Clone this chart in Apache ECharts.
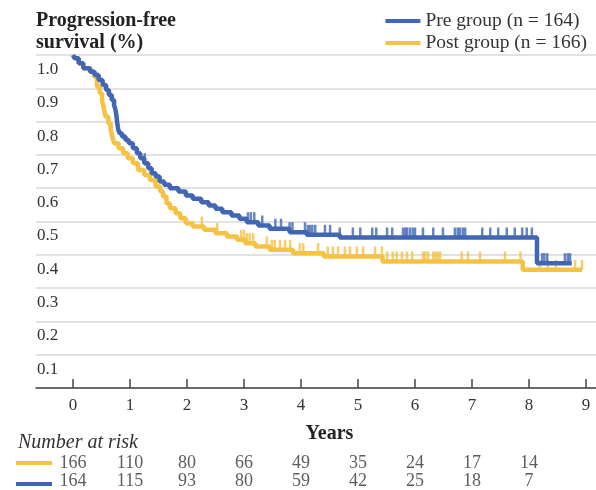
<!DOCTYPE html>
<html>
<head>
<meta charset="utf-8">
<title>Progression-free survival</title>
<script src="https://cdn.jsdelivr.net/npm/echarts@6/dist/echarts.min.js"></script>
<style>
  html, body { margin: 0; padding: 0; background: #ffffff; }
  #chart { width: 596px; height: 490px; }
</style>
</head>
<body>
<div id="chart"></div>
<script>
// Kaplan-Meier step curves: event times (years) and survival after each event
const preTimes = [0, 0.03, 0.10, 0.18, 0.30, 0.38, 0.45, 0.52, 0.58, 0.63, 0.68, 0.72, 0.745, 0.76, 0.77, 0.78, 0.795,
  0.82, 0.86, 0.92, 0.98, 1.05, 1.12, 1.18, 1.25, 1.32, 1.38, 1.45, 1.52, 1.60, 1.70, 1.85, 1.98, 2.10, 2.25, 2.38,
  2.50, 2.62, 2.78, 2.92, 3.05, 3.25, 3.45, 3.80, 4.10, 4.68, 8.14, 8.75];
const preSurv = [1.0, 0.99, 0.975, 0.96, 0.95, 0.94, 0.925, 0.91, 0.895, 0.88, 0.865, 0.85, 0.835, 0.82, 0.805, 0.79, 0.775,
  0.765, 0.755, 0.745, 0.735, 0.72, 0.705, 0.69, 0.675, 0.66, 0.645, 0.635, 0.62, 0.61, 0.60, 0.59, 0.578, 0.568, 0.558, 0.548,
  0.538, 0.528, 0.518, 0.508, 0.498, 0.488, 0.478, 0.468, 0.46, 0.452, 0.375, 0.375];

const postTimes = [0, 0.03, 0.10, 0.18, 0.30, 0.37, 0.42, 0.47, 0.51, 0.54, 0.57, 0.62, 0.66, 0.69, 0.72,
  0.80, 0.88, 0.96, 1.05, 1.14, 1.25, 1.35, 1.45, 1.53, 1.58, 1.64, 1.70, 1.80, 1.88, 1.98, 2.10, 2.30, 2.50,
  2.70, 2.88, 3.02, 3.20, 3.45, 3.86, 4.40, 5.43, 7.89, 8.93];
const postSurv = [1.0, 0.99, 0.975, 0.96, 0.95, 0.935, 0.905, 0.885, 0.865, 0.84, 0.815, 0.795, 0.775, 0.755, 0.735,
  0.72, 0.705, 0.69, 0.675, 0.655, 0.64, 0.625, 0.605, 0.59, 0.575, 0.555, 0.54, 0.525, 0.51, 0.495, 0.485, 0.475, 0.465,
  0.455, 0.445, 0.435, 0.425, 0.415, 0.405, 0.395, 0.38, 0.355, 0.355];

// Censoring times (years)
const preCensor = [1.26, 3.07, 3.12, 3.18, 3.32, 3.55, 3.65, 3.80, 3.85, 4.07, 4.12, 4.16, 4.20, 4.25, 4.42, 4.51,
  4.68, 4.91, 5.04, 5.25, 5.32, 5.51, 5.60, 5.79, 5.83, 5.86, 5.91, 5.96, 6.00, 6.14, 6.32, 6.49, 6.70, 6.75,
  6.79, 6.84, 6.88, 7.18, 7.32, 7.46, 7.61, 7.75, 7.88, 7.96, 8.05, 8.23, 8.27, 8.32, 8.63, 8.68, 8.72];
const postCensor = [2.26, 2.53, 2.95, 3.00, 3.05, 3.10, 3.16, 3.40, 3.49, 3.54, 3.63, 3.72, 3.81, 3.98, 4.04, 4.30,
  4.47, 4.56, 4.65, 4.77, 4.86, 4.98, 5.09, 5.30, 5.42, 5.51, 5.61, 5.68, 5.77, 5.86, 5.95, 6.14, 6.18, 6.23,
  6.32, 6.36, 6.40, 6.44, 6.82, 6.93, 7.14, 7.58, 7.85, 8.19, 8.33, 8.47, 8.81, 8.93];

// Number at risk
const riskYears = [0, 1, 2, 3, 4, 5, 6, 7, 8];
const riskPost = [166, 110, 80, 66, 49, 35, 24, 17, 14];
const riskPre = [164, 115, 93, 80, 59, 42, 25, 18, 7];

const preName = 'Pre group (n = 164)';
const postName = 'Post group (n = 166)';
const BLUE = '#4066b4';
const YELLOW = '#f5c244';
const FONT = 'Liberation Serif';
const TEXT = '#333333';

function stepPoints(times, surv) {
  return times.map((t, i) => [t, surv[i]]);
}
function survivalAt(times, surv, t) {
  let s = surv[0];
  for (let i = 0; i < times.length; i++) {
    if (times[i] <= t) s = surv[i];
  }
  return s;
}
function censorPoints(censor, times, surv) {
  return censor.map(t => [t, survivalAt(times, surv, t)]);
}

const chart = echarts.init(document.getElementById('chart'), null, { renderer: 'canvas' });

const censorStyle = color => ({
  type: 'scatter',
  xAxisIndex: 1,
  yAxisIndex: 1,
  symbol: 'rect',
  symbolSize: [2.5, 10],
  symbolOffset: [0, -5],
  itemStyle: { color: color },
  silent: true,
  z: 3
});

const riskSeries = (name, values) => ({
  type: 'scatter',
  xAxisIndex: 2,
  yAxisIndex: 2,
  symbolSize: 1,
  itemStyle: { color: 'transparent' },
  data: values.map((n, i) => [riskYears[i], name, n]),
  label: {
    show: true,
    position: 'inside',
    formatter: p => String(p.value[2]),
    fontFamily: FONT,
    fontSize: 18,
    color: TEXT
  },
  silent: true
});

chart.setOption({
  animation: false,
  backgroundColor: '#ffffff',
  textStyle: { fontFamily: FONT },
  title: {
    text: 'Progression-free\nsurvival (%)',
    left: 36,
    top: 10,
    padding: 0,
    textStyle: { fontFamily: FONT, fontSize: 20, fontWeight: 'bold', color: '#222222', lineHeight: 22 }
  },
  legend: {
    data: [
      { name: preName, itemStyle: { color: BLUE } },
      { name: postName, itemStyle: { color: YELLOW } }
    ],
    orient: 'vertical',
    right: 9,
    top: 11,
    padding: 0,
    itemGap: 2,
    itemWidth: 35,
    itemHeight: 4,
    icon: 'rect',
    textStyle: { fontFamily: FONT, fontSize: 19.5, color: TEXT, lineHeight: 20 }
  },
  graphic: [
    {
      type: 'text', left: 18, top: 433,
      style: { text: 'Number at risk', font: 'italic 20px "Liberation Serif"', fill: TEXT }
    },
    { type: 'rect', left: 16, top: 461, shape: { width: 36, height: 4 }, style: { fill: YELLOW } },
    { type: 'rect', left: 16, top: 482, shape: { width: 36, height: 4 }, style: { fill: BLUE } }
  ],
  grid: [
    { left: 36, right: 0, top: 55, height: 333 },
    { left: 73, width: 513, top: 55, height: 333 },
    { left: 73, width: 513, top: 454, height: 50 }
  ],
  xAxis: [
    {
      gridIndex: 0, type: 'value', min: 0, max: 1,
      axisLine: { show: true, lineStyle: { color: '#444444', width: 1.5 } },
      axisTick: { show: false }, axisLabel: { show: false }, splitLine: { show: false }
    },
    {
      gridIndex: 1, type: 'value', min: 0, max: 9, interval: 1,
      axisLine: { show: false },
      axisTick: { show: true, inside: true, length: 9, lineStyle: { color: '#444444', width: 1.5 } },
      axisLabel: { margin: 9, fontFamily: FONT, fontSize: 17, color: TEXT },
      splitLine: { show: false },
      name: 'Years', nameLocation: 'middle', nameGap: 36,
      nameTextStyle: { fontFamily: FONT, fontSize: 20, fontWeight: 'bold', color: '#222222' }
    },
    { gridIndex: 2, type: 'value', min: 0, max: 9, show: false }
  ],
  yAxis: [
    {
      gridIndex: 0, type: 'value', min: 0, max: 1, interval: 0.1,
      axisLine: { show: false }, axisTick: { show: false },
      splitLine: { show: true, lineStyle: { color: '#d9d9d9', width: 1.5 } },
      axisLabel: {
        inside: true, margin: 1, align: 'left', verticalAlign: 'top', padding: [6, 0, 0, 0],
        showMinLabel: false,
        fontFamily: FONT, fontSize: 17, color: TEXT,
        formatter: v => v.toFixed(1)
      }
    },
    { gridIndex: 1, type: 'value', min: 0, max: 1, show: false },
    { gridIndex: 2, type: 'category', data: ['Pre', 'Post'], show: false }
  ],
  series: [
    {
      name: postName, type: 'line', step: 'end', xAxisIndex: 1, yAxisIndex: 1,
      data: stepPoints(postTimes, postSurv), showSymbol: false, symbol: 'none',
      lineStyle: { color: YELLOW, width: 4.5 }, itemStyle: { color: YELLOW }, z: 2
    },
    Object.assign(censorStyle(YELLOW), { data: censorPoints(postCensor, postTimes, postSurv) }),
    {
      name: preName, type: 'line', step: 'end', xAxisIndex: 1, yAxisIndex: 1,
      data: stepPoints(preTimes, preSurv), showSymbol: false, symbol: 'none',
      lineStyle: { color: BLUE, width: 4.5 }, itemStyle: { color: BLUE }, z: 4
    },
    Object.assign(censorStyle(BLUE), { data: censorPoints(preCensor, preTimes, preSurv), z: 5 }),
    riskSeries('Post', riskPost),
    riskSeries('Pre', riskPre)
  ]
});
</script>
</body>
</html>
